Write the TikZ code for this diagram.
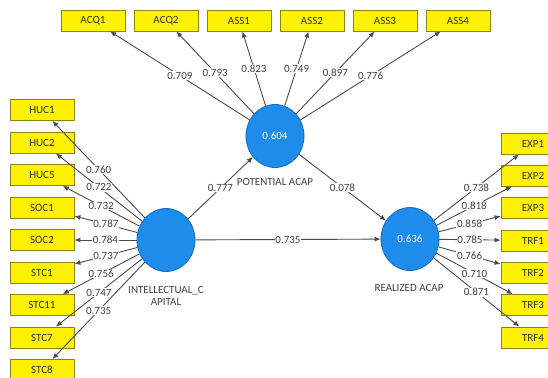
\documentclass[tikz,border=0pt]{standalone}
\usepackage{fontspec}
\setmainfont{Carlito}
\usetikzlibrary{positioning, shapes, arrows.meta}
\definecolor{indfill}{RGB}{255,242,0}
\definecolor{indline}{RGB}{140,130,20}
\definecolor{lvfill}{RGB}{30,140,235}
\definecolor{lvline}{RGB}{20,105,195}
\definecolor{ldgray}{RGB}{75,75,75}
\tikzset{
  ind/.style={draw=indline, fill=indfill, line width=0.8pt, minimum width=64pt, minimum height=21pt, inner sep=0pt, font=\fontsize{11}{13}\selectfont, text=black!80},
  lv/.style={ellipse, draw=lvline, fill=lvfill, line width=0.8pt, minimum width=58pt, minimum height=63pt, inner sep=0pt, font=\fontsize{11}{13}\selectfont, text=white},
  lvname/.style={font=\fontsize{11}{12}\selectfont, text=black!75, align=center, inner sep=0pt},
  ld/.style={draw=ldgray, line width=0.9pt, -{Latex[length=6pt,width=5pt]}},
  w/.style={fill=white, inner sep=0.6pt, font=\fontsize{11}{13}\selectfont, text=black!75}}

\begin{document}
\begin{tikzpicture}[x=1pt, y=-1pt]
	\useasboundingbox (0,0) rectangle (548,377);
	% latent variables
	\node[lv] (pa) at (275,136) {0.604};
	\node[lv] (ic) at (166,240) {};
	\node[lv] (ra) at (410,239) {0.636};
	\node[lvname] (pan) at (275,182) {POTENTIAL ACAP};
	\node[lvname] (icn) at (166,296) {INTELLECTUAL\_C\\APITAL};
	\node[lvname] (ran) at (409,288) {REALIZED ACAP};
	% indicators, top
	\node[ind] (acq1) at (93,20.5) {ACQ1};
	\node[ind] (acq2) at (166,20.5) {ACQ2};
	\node[ind] (ass1) at (239,20.5) {ASS1};
	\node[ind] (ass2) at (312,20.5) {ASS2};
	\node[ind] (ass3) at (385,20.5) {ASS3};
	\node[ind] (ass4) at (458,20.5) {ASS4};
	% indicators, left
	\node[ind] (huc1) at (42,110) {HUC1};
	\node[ind] (huc2) at (42,142.5) {HUC2};
	\node[ind] (huc5) at (42,175) {HUC5};
	\node[ind] (soc1) at (42,207.5) {SOC1};
	\node[ind] (soc2) at (42,240) {SOC2};
	\node[ind] (stc1) at (42,272.5) {STC1};
	\node[ind] (stc11) at (42,305) {STC11};
	\node[ind] (stc7) at (42,337.5) {STC7};
	\node[ind] (stc8) at (42,370) {STC8};
	% indicators, right
	\node[ind] (exp1) at (533,143.5) {EXP1};
	\node[ind] (exp2) at (533,175.5) {EXP2};
	\node[ind] (exp3) at (533,208) {EXP3};
	\node[ind] (trf1) at (533,240.5) {TRF1};
	\node[ind] (trf2) at (533,273) {TRF2};
	\node[ind] (trf3) at (533,305) {TRF3};
	\node[ind] (trf4) at (533,337.5) {TRF4};
	% loadings
\draw[ld] (pa) -- node[w] {0.709} (acq1);\draw[ld] (pa) -- node[w] {0.793} (acq2);
\draw[ld] (pa) -- node[w] {0.823} (ass1);\draw[ld] (pa) -- node[w] {0.749} (ass2);
\draw[ld] (pa) -- node[w] {0.897} (ass3);\draw[ld] (pa) -- node[w] {0.776} (ass4);
\draw[ld] (ic) -- node[w] {0.760} (huc1);\draw[ld] (ic) -- node[w] {0.722} (huc2);
\draw[ld] (ic) -- node[w] {0.732} (huc5);\draw[ld] (ic) -- node[w] {0.787} (soc1);
\draw[ld] (ic) -- node[w] {0.784} (soc2);\draw[ld] (ic) -- node[w] {0.737} (stc1);
\draw[ld] (ic) -- node[w] {0.756} (stc11);\draw[ld] (ic) -- node[w] {0.747} (stc7);
\draw[ld] (ic) -- node[w] {0.735} (stc8);
\draw[ld] (ra) -- node[w] {0.738} (exp1);\draw[ld] (ra) -- node[w] {0.818} (exp2);
\draw[ld] (ra) -- node[w] {0.858} (exp3);\draw[ld] (ra) -- node[w] {0.785} (trf1);
\draw[ld] (ra) -- node[w] {0.766} (trf2);\draw[ld] (ra) -- node[w] {0.710} (trf3);
\draw[ld] (ra) -- node[w] {0.871} (trf4);
	% paths
\draw[ld] (ic) -- node[w] {0.777} (pa);
\draw[ld] (pa) -- node[w] {0.078} (ra);
\draw[ld] (ic) -- node[w] {0.735} (ra);
\end{tikzpicture}
\end{document}
